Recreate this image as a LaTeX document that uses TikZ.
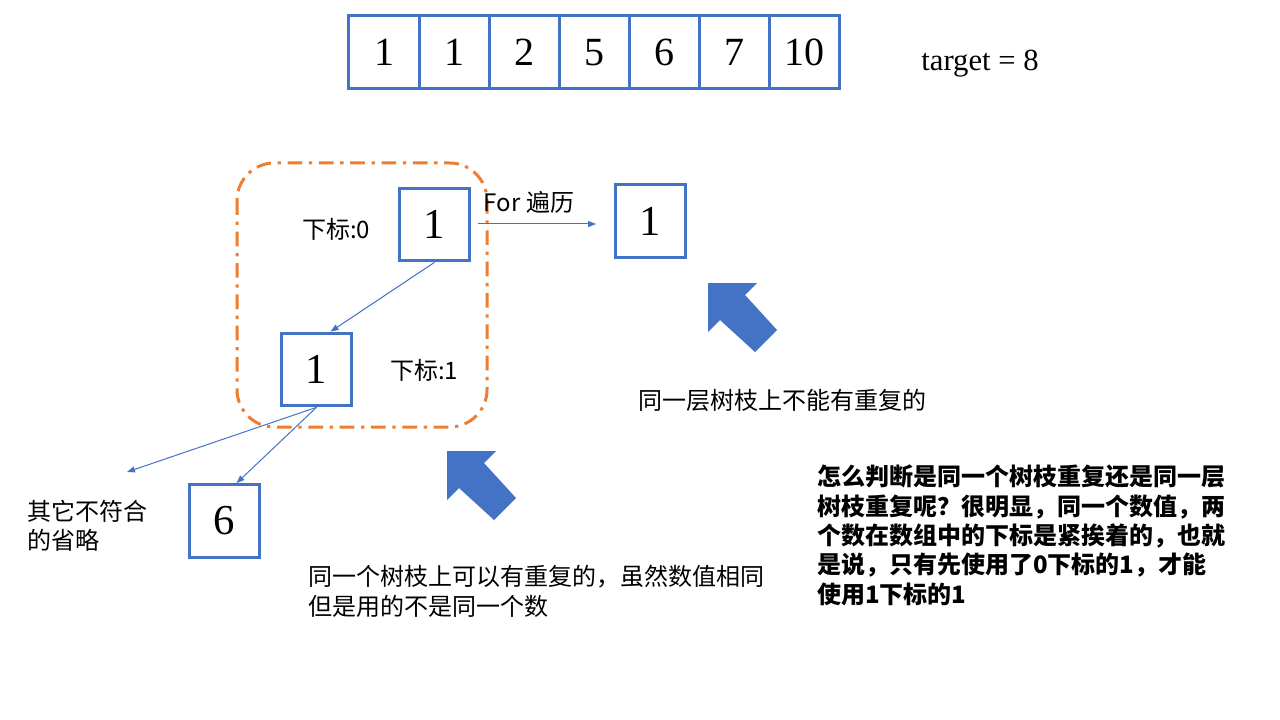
\documentclass[tikz,border=0pt]{standalone}
\usepackage{fontspec}
\setmainfont{Noto Sans CJK SC}
\newfontfamily\tnr{Liberation Serif}
\usetikzlibrary{arrows.meta,calc}
\definecolor{accblue}{HTML}{4472C4}
\definecolor{accorange}{HTML}{ED7D31}
\begin{document}
\begin{tikzpicture}[x=0.75pt,y=-0.75pt,
 cell/.style={draw=accblue,line width=2.25pt,minimum width=52.6pt,minimum height=54.75pt,inner sep=0pt,font=\tnr\fontsize{30}{30}\selectfont},
 numbox/.style={draw=accblue,line width=2.25pt,minimum width=53pt,minimum height=54.5pt,inner sep=0pt,font=\tnr\fontsize{32}{32}\selectfont},
 lbl/.style={font=\fontsize{18}{22}\selectfont,inner sep=0pt},
 conn/.style={draw=accblue,line width=0.75pt,-{Triangle[length=6pt,width=4.5pt]}},
 blockarrow/.style={fill=accblue,draw=none},
 groupbox/.style={draw=accorange,line width=2.25pt,rounded corners=28pt,dash pattern=on 11pt off 5pt on 2.5pt off 5pt}]
\useasboundingbox (0,0) rectangle (1280,720);

% array
\foreach \v [count=\i from 0] in {1,1,2,5,6,7,10}{
  \node[cell] (a\i) at ({384+70.1*\i},52.5) {\v};
}
\node[font=\tnr\fontsize{23}{23}\selectfont,inner sep=0pt] (target) at (980,64) {target = 8};

% grouping box
\draw[groupbox] (237,163) rectangle (487,427);

% number boxes
\node[numbox] (n0) at (434.5,224.5) {1};
\node[numbox] (nr) at (650.5,221) {1};
\node[numbox] (n1) at (316.5,369.5) {1};
\node[numbox] (n6) at (224.5,521) {6};

% labels
\node[lbl] (l0) at (336,229) {下标:0};
\node[lbl] (l1) at (424,370) {下标:1};
\node[lbl] (forlbl) at (529,202) {For 遍历};
\node[lbl] (samelayer) at (782,400) {同一层树枝上不能有重复的};
\node[lbl,anchor=west,align=left] (other) at (27,525.5) {其它不符合\\的省略};
\node[lbl,anchor=west,align=left] (samebranch) at (308,591.5) {同一个树枝上可以有重复的，虽然数值相同\\但是用的不是同一个数};
\node[lbl,anchor=west,align=left,font=\bfseries\fontsize{18}{22}\selectfont] (note) at (817,535.5) {怎么判断是同一个树枝重复还是同一层\\树枝重复呢？很明显，同一个数值，两\\个数在数组中的下标是紧挨着的，也就\\是说，只有先使用了0下标的1，才能\\使用1下标的1};

% connectors
\coordinate (forstart) at (478,224);
\coordinate (forend) at (596,224);
\coordinate (otherend) at (127,472);
\draw[conn] (n0.south) -- ($(n1.north)+(14,0)$);
\draw[conn] (forstart) -- (forend);
\draw[conn] (n1.south) -- (otherend);
\draw[conn] (n1.south) -- ($(n6.north)+(12,0)$);

% block arrows
\fill[blockarrow] (708,283) -- (757,283) -- (745,295) -- (777,330) -- (755,352) -- (720,320) -- (708,332) -- cycle;
\begin{scope}[shift={(-261,168)}]
\fill[blockarrow] (708,283) -- (757,283) -- (745,295) -- (777,330) -- (755,352) -- (720,320) -- (708,332) -- cycle;
\end{scope}
\end{tikzpicture}
\end{document}
